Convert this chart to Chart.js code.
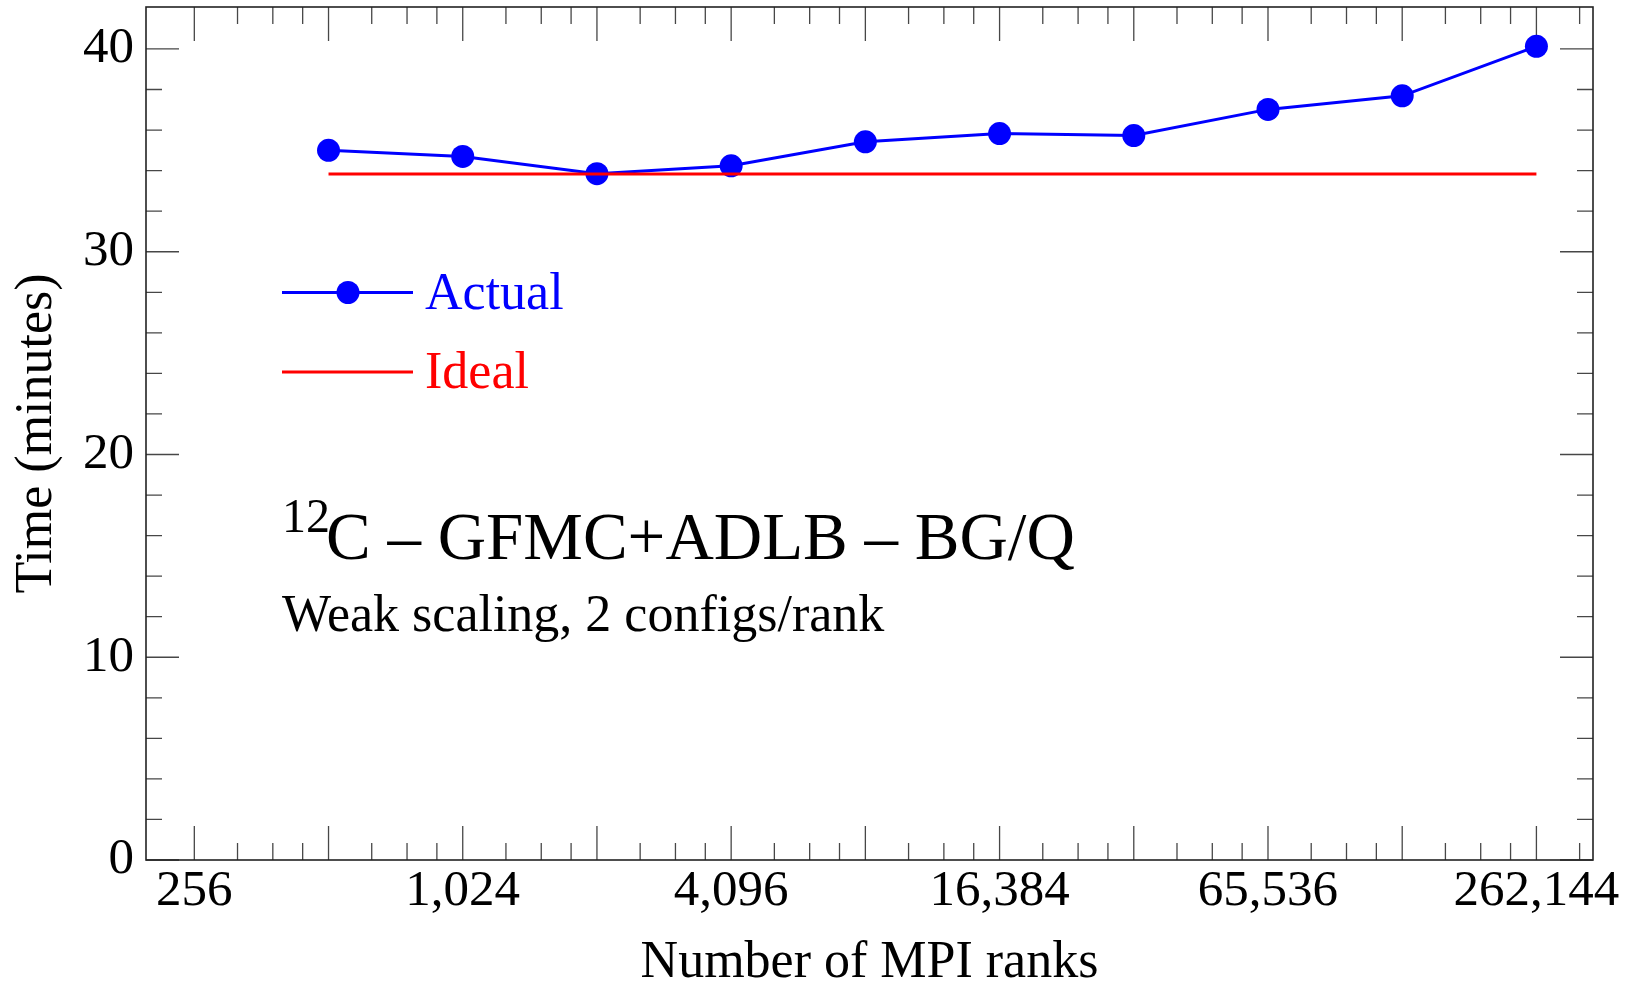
<!DOCTYPE html>
<html>
<head>
<meta charset="utf-8">
<script src="https://cdn.jsdelivr.net/npm/chart.js@4/dist/chart.umd.min.js"></script>
<style>
  html, body { margin: 0; padding: 0; background: #ffffff; }
  #wrap { width: 1639px; height: 987px; position: relative; }
</style>
</head>
<body>
<div id="wrap"><canvas id="c" width="1639" height="987"></canvas></div>
<script>
// ---------------- data ----------------
const ranks = [512, 1024, 2048, 4096, 8192, 16384, 32768, 65536, 131072, 262144];
const actualMinutes = [35.0, 34.7, 33.85, 34.24, 35.42, 35.83, 35.73, 37.02, 37.69, 40.13];
const idealRanks = [512, 262144];
const idealMinutes = [33.83, 33.83];

// tick labels
const xLabelValues = [256, 1024, 4096, 16384, 65536, 262144];
const xOctaves = [256, 512, 1024, 2048, 4096, 8192, 16384, 32768, 65536, 131072, 262144];
const xSubdivisions = [1.25, 1.5, 1.75];
const yLabelValues = [0, 10, 20, 30, 40];
const yMinorValues = [2, 4, 6, 8, 12, 14, 16, 18, 22, 24, 26, 28, 32, 34, 36, 38];

const xTitle = 'Number of MPI ranks';
const yTitle = 'Time (minutes)';
const seriesNames = ['Actual', 'Ideal'];
const noteSup = '12';
const noteMain = 'C \u2013 GFMC+ADLB \u2013 BG/Q';
const noteSub = 'Weak scaling, 2 configs/rank';

const FONT = '"Liberation Serif", "Times New Roman", serif';
const BLUE = '#0000ff';
const RED = '#ff0000';

// build tick mark lists (major = power of two, minor = subdivisions)
const xTickMarks = [];
xOctaves.forEach(o => {
  xTickMarks.push({ value: o, major: true });
  xSubdivisions.forEach(m => {
    const v = o * m;
    if (v <= 2 ** 18.42) xTickMarks.push({ value: v, major: false });
  });
});
xTickMarks.sort((a, b) => a.value - b.value);
const yTickMarks = yLabelValues.map(v => ({ value: v, major: true }))
  .concat(yMinorValues.map(v => ({ value: v, major: false })))
  .sort((a, b) => a.value - b.value);

function fmt(v) { return v.toLocaleString('en-US'); }

const frameTicks = {
  id: 'frameTicks',
  beforeDatasetsDraw(chart) {
    const { ctx, chartArea: a, scales: { x, y } } = chart;
    ctx.save();
    ctx.strokeStyle = '#474747';
    ctx.lineWidth = 1.3;
    ctx.beginPath();
    xTickMarks.forEach(t => {
      const px = x.getPixelForValue(t.value);
      const len = t.major ? 34 : 17;
      ctx.moveTo(px, a.bottom); ctx.lineTo(px, a.bottom - len);
      ctx.moveTo(px, a.top); ctx.lineTo(px, a.top + len);
    });
    yTickMarks.forEach(t => {
      const py = y.getPixelForValue(t.value);
      const len = t.major ? 33 : 16;
      ctx.moveTo(a.left, py); ctx.lineTo(a.left + len, py);
      ctx.moveTo(a.right, py); ctx.lineTo(a.right - len, py);
    });
    ctx.stroke();
    ctx.strokeStyle = '#222222';
    ctx.lineWidth = 1.6;
    ctx.strokeRect(a.left, a.top, a.right - a.left, a.bottom - a.top);
    ctx.restore();
  },
  afterDraw(chart) {
    const { ctx } = chart;
    ctx.save();
    ctx.textBaseline = 'alphabetic';
    ctx.textAlign = 'left';
    // legend: Actual
    ctx.strokeStyle = BLUE; ctx.lineWidth = 3;
    ctx.beginPath(); ctx.moveTo(282, 292.5); ctx.lineTo(413, 292.5); ctx.stroke();
    ctx.fillStyle = BLUE;
    ctx.beginPath(); ctx.arc(348, 292.5, 11.5, 0, Math.PI * 2); ctx.fill();
    ctx.font = '52px ' + FONT;
    ctx.fillText(seriesNames[0], 425, 309);
    // legend: Ideal
    ctx.strokeStyle = RED; ctx.lineWidth = 3;
    ctx.beginPath(); ctx.moveTo(282, 372); ctx.lineTo(413, 372); ctx.stroke();
    ctx.fillStyle = RED;
    ctx.fillText(seriesNames[1], 425, 388);
    // annotation
    ctx.fillStyle = '#000000';
    ctx.font = '48px ' + FONT;
    ctx.fillText(noteSup, 282, 532);
    ctx.font = '67px ' + FONT;
    ctx.fillText(noteMain, 326, 559);
    ctx.font = '52px ' + FONT;
    ctx.fillText(noteSub, 282, 631);
    ctx.restore();
  }
};

new Chart(document.getElementById('c'), {
  type: 'line',
  data: {
    datasets: [
      {
        label: seriesNames[0],
        data: ranks.map((r, i) => ({ x: r, y: actualMinutes[i] })),
        borderColor: BLUE,
        backgroundColor: BLUE,
        borderWidth: 3,
        pointRadius: 11.5,
        pointHoverRadius: 11.5,
        pointBorderWidth: 0,
        pointBackgroundColor: BLUE,
        tension: 0,
        order: 2
      },
      {
        label: seriesNames[1],
        data: idealRanks.map((r, i) => ({ x: r, y: idealMinutes[i] })),
        borderColor: RED,
        backgroundColor: RED,
        borderWidth: 3,
        pointRadius: 0,
        tension: 0,
        order: 1
      }
    ]
  },
  options: {
    responsive: false,
    animation: false,
    events: [],
    layout: { autoPadding: false, padding: { top: 7, right: 46, left: 0, bottom: 0 } },
    plugins: { legend: { display: false }, tooltip: { enabled: false } },
    scales: {
      x: {
        type: 'logarithmic',
        min: 2 ** 7.64,
        max: 2 ** 18.4216,
        bounds: 'data',
        grid: { display: false, drawTicks: false },
        border: { display: false },
        afterBuildTicks(s) { s.ticks = xTickMarks.map(t => ({ value: t.value, major: false })); },
        ticks: {
          autoSkip: false, maxRotation: 0, minRotation: 0, padding: 6,
          color: '#000000',
          font: { family: FONT, size: 51, lineHeight: 1 },
          callback: (v) => xLabelValues.includes(v) ? fmt(v) : ''
        },
        title: {
          display: true, text: xTitle, color: '#000000',
          font: { family: FONT, size: 52, lineHeight: 0.92 },
          padding: { top: 0, bottom: 0 }
        },
        afterFit(s) { s.height = 127; s.paddingLeft = 0; s.paddingRight = 0; }
      },
      y: {
        type: 'linear',
        min: 0,
        max: 42.07,
        bounds: 'data',
        grid: { display: false, drawTicks: false },
        border: { display: false },
        afterBuildTicks(s) { s.ticks = yTickMarks.map(t => ({ value: t.value })); },
        ticks: {
          autoSkip: false, padding: 12,
          color: '#000000',
          font: { family: FONT, size: 51 },
          callback: (v) => yLabelValues.includes(v) ? String(v) : ''
        },
        title: {
          display: true, text: yTitle, color: '#000000',
          font: { family: FONT, size: 52, lineHeight: 1 },
          padding: { top: 11, bottom: 0 }
        },
        afterFit(s) { s.width = 146; s.paddingTop = 0; s.paddingBottom = 0; }
      }
    }
  },
  plugins: [frameTicks]
});
</script>
</body>
</html>
